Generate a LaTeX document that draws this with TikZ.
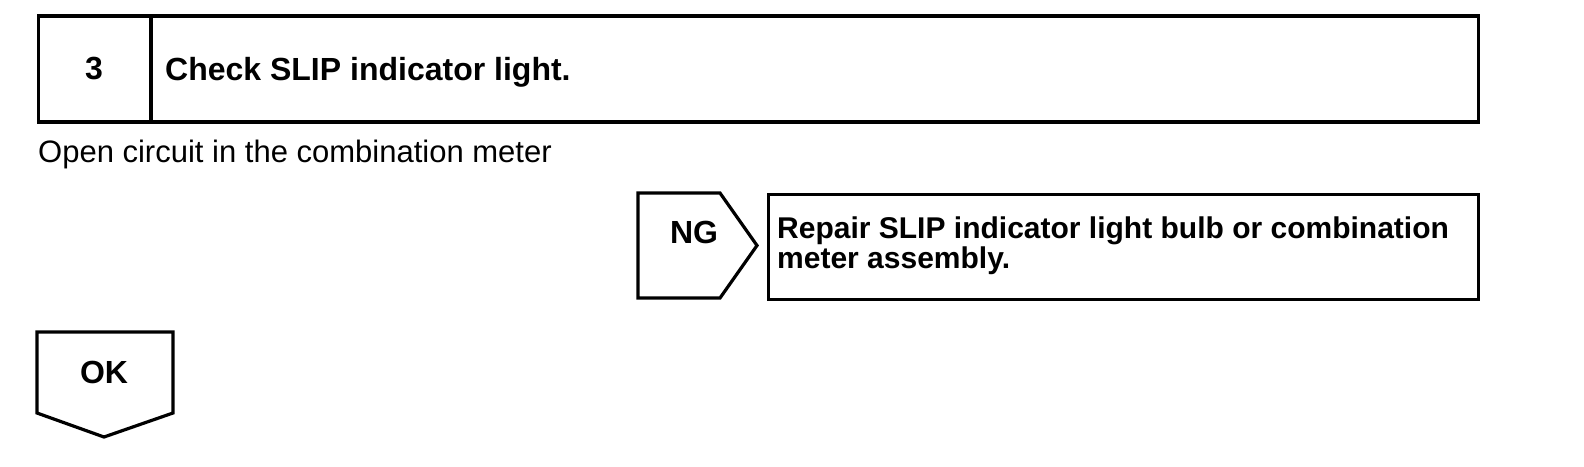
\documentclass[tikz,border=0pt]{standalone}
\usepackage{fontspec}
\setmainfont{Liberation Sans}
\begin{document}
\begin{tikzpicture}[x=1pt,y=-1pt,
  frame/.style={draw=black, line width=3.2pt, inner sep=0pt},
  boldbig/.style={font=\fontsize{32}{26}\selectfont\bfseries, inner sep=0pt},
  boldtxt/.style={font=\fontsize{30}{23}\selectfont\bfseries, inner sep=0pt},
  plaintxt/.style={font=\fontsize{31}{26}\selectfont, inner sep=0pt}]
\useasboundingbox (0,0) rectangle (1584,466);
% header
\node[frame, minimum width=1440pt, minimum height=106pt, anchor=west] (header) at (37,69) {};
\coordinate (div) at (151,69);
\draw[line width=3.2pt] (div |- header.north) -- (div |- header.south);
\node[boldbig] (num) at (94,69) {3};
\node[boldbig, anchor=base west] (titletext) at (165,80) {Check SLIP indicator light.};
% condition
\node[plaintxt, anchor=base west] (cond) at (38,162) {Open circuit in the combination meter};
% NG branch
\coordinate (ngA) at (638,193);
\coordinate (ngB) at (720,193);
\coordinate (ngC) at (757,245.5);
\coordinate (ngD) at (720,298);
\coordinate (ngE) at (638,298);
\draw[line width=3.2pt] (ngA) -- (ngB) -- (ngC) -- (ngD) -- (ngE) -- cycle;
\node[boldbig] (ngtext) at (694,232) {NG};
\node[frame, minimum width=710pt, minimum height=105pt, anchor=north west] (repair) at (767,193) {};
\node[boldtxt, anchor=base west, align=left] (repairtext) at (777,268) {Repair SLIP indicator light bulb or combination\\meter assembly.};
% OK branch
\coordinate (okA) at (37,332);
\coordinate (okB) at (173,332);
\coordinate (okC) at (173,413);
\coordinate (okD) at (104,437);
\coordinate (okE) at (37,413);
\draw[line width=3.2pt] (okA) -- (okB) -- (okC) -- (okD) -- (okE) -- cycle;
\node[boldbig] (oktext) at (104,372) {OK};
\end{tikzpicture}
\end{document}
